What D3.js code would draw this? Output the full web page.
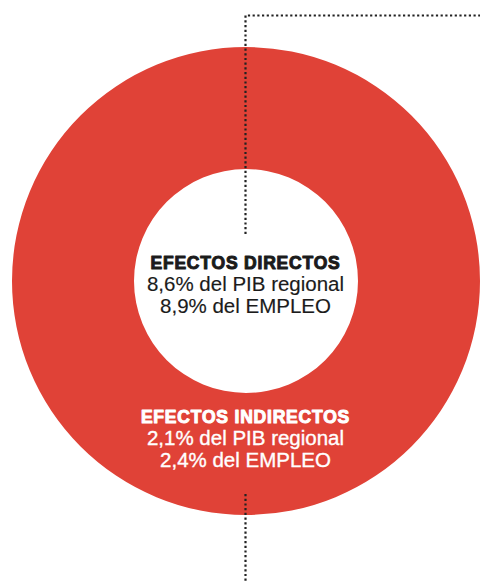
<!DOCTYPE html>
<html>
<head>
<meta charset="utf-8">
<script src="https://cdn.jsdelivr.net/npm/d3@7"></script>
<style>
html,body{margin:0;padding:0;background:#fff;}
svg{display:block;}
</style>
</head>
<body>
<svg id="chart" width="480" height="583"></svg>
<script>
// Data
const categories = ["EFECTOS DIRECTOS", "EFECTOS INDIRECTOS"];
const pibValues = [8.6, 2.1];
const empleoValues = [8.9, 2.4];
const ringShare = [1];

(function () {
const W = 480, H = 583;
const cx = 246, cy = 281, rOuter = 234, rInner = 112;
const red = "#e04237";
const ink = "#1b1b1b";

const svg = d3.select("#chart");
const fmt = v => d3.format(".1f")(v).replace(".", ",");

// Ring (full donut)
const pie = d3.pie().sort(null);
const arc = d3.arc().innerRadius(rInner).outerRadius(rOuter);
svg.append("g").attr("transform", `translate(${cx},${cy})`)
  .selectAll("path").data(pie(ringShare)).join("path")
  .attr("d", arc).attr("fill", red);

// Dotted leader lines
const lx = 245.5;
const leaders = [
  `M${lx},234 L${lx},15.5 L${W},15.5`,
  `M${lx},494 L${lx},${H}`
];
svg.selectAll("path.leader").data(leaders).join("path")
  .attr("class", "leader")
  .attr("d", d => d)
  .attr("fill", "none")
  .attr("stroke", "#222")
  .attr("stroke-width", 2.2)
  .attr("stroke-dasharray", "2.2,2.5");

// Labels
const blocks = [
  {y: 269, color: ink, sw: 0.15},
  {y: 423, color: "#ffffff", sw: 0.35}
];
categories.forEach((c, i) => {
  const b = blocks[i];
  const g = svg.append("g").attr("text-anchor", "middle").attr("fill", b.color);
  g.append("text")
    .attr("x", lx).attr("y", b.y)
    .attr("font-family", "'Liberation Sans', Arial, sans-serif")
    .attr("font-weight", 700).attr("font-size", 17.5)
    .attr("letter-spacing", 0.8)
    .attr("stroke", b.color).attr("stroke-width", 1.0)
    .attr("stroke-linejoin", "round")
    .text(c);
  [`${fmt(pibValues[i])}% del PIB regional`, `${fmt(empleoValues[i])}% del EMPLEO`]
    .forEach((t, j) => {
      g.append("text")
        .attr("x", lx).attr("y", b.y + 22 * (j + 1))
        .attr("font-family", "'Liberation Sans', Arial, sans-serif")
        .attr("font-size", 20.5)
        .attr("stroke", b.color).attr("stroke-width", b.sw)
        .text(t);
    });
});
})();
</script>
</body>
</html>
